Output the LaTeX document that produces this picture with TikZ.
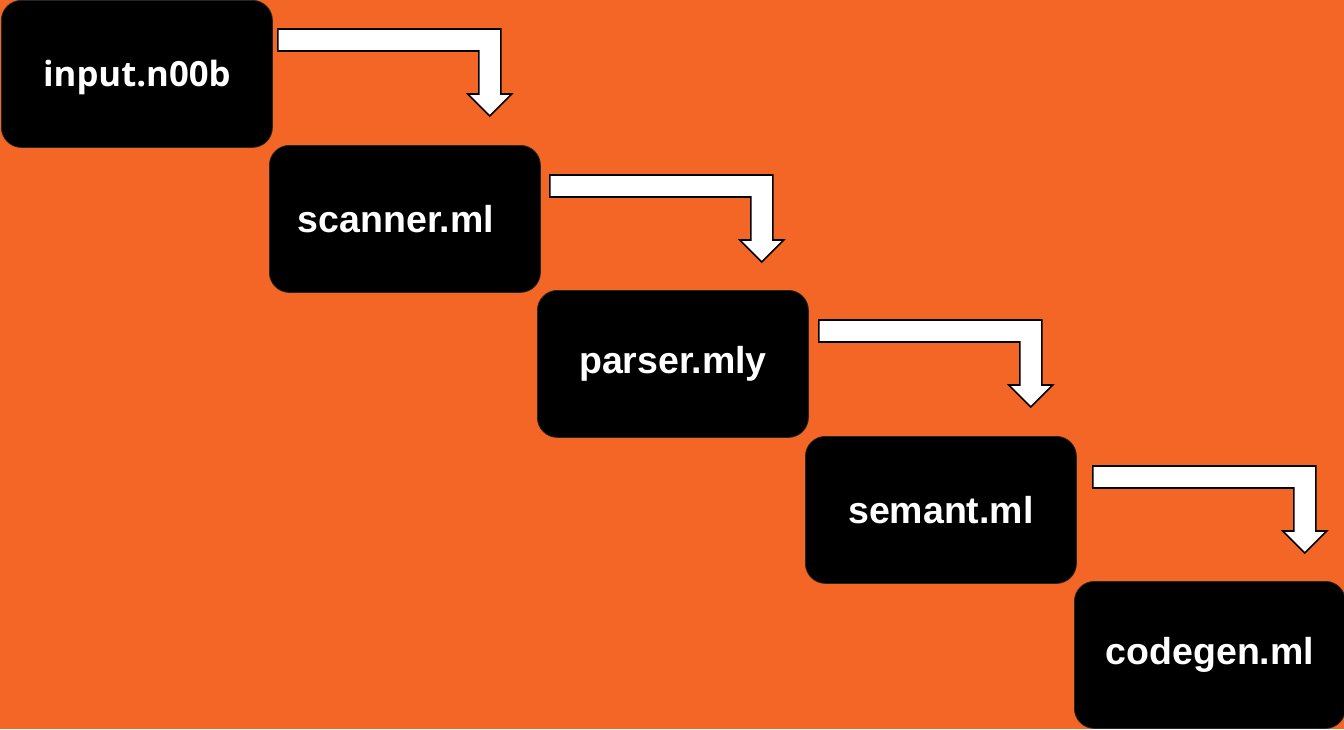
\documentclass[tikz,border=0pt]{standalone}
\usepackage{fontspec}
\setmainfont{Liberation Sans}
\newfontfamily\opensans{Open Sans}
\usetikzlibrary{calc}
\definecolor{bgorange}{RGB}{243,102,38}
\tikzset{
  stage/.style={fill=black, draw=black!85, line width=0.8pt, rounded corners=20pt,
    minimum width=271pt, minimum height=147pt, anchor=north west, inner sep=0pt,
    text=white, font=\fontsize{37.5}{42}\selectfont\bfseries},
  flowarrow/.style={fill=white, draw=black, line width=1.6pt, line join=miter}
}
% bent block arrow starting at the given point
\newcommand\bentarrow[1]{%
  \draw[flowarrow] #1 -- ++(223,0) -- ++(0,65) -- ++(11,0) -- ++(-22,22)
    -- ++(-22,-22) -- ++(11,0) -- ++(0,-43) -- ++(-201,0) -- cycle;}
\begin{document}
\begin{tikzpicture}[x=1pt,y=-1pt]
\fill[bgorange] (0,0) rectangle (1344,729);
\useasboundingbox (0,0) rectangle (1344,729);

\node[stage, font=\opensans\fontsize{34.7}{40}\selectfont\bfseries,
  text depth=2pt] (in) at (1,0) {input.n00b};
\node[stage, align=center, text width=271pt] (scan) at (269,145)
  {\hspace*{-18pt}scanner.ml};
\node[stage] (parse) at (537,290) {parser.mly};
\node[stage] (sem) at (805,436) {semant.ml};
\node[stage] (gen) at (1074,581) {codegen.ml};

\bentarrow{($(in.north east)+(5,29)$)}
\bentarrow{($(scan.north east)+(9,30)$)}
\bentarrow{($(parse.north east)+(10,30)$)}
\bentarrow{($(sem.north east)+(16,30)$)}
\end{tikzpicture}
\end{document}
